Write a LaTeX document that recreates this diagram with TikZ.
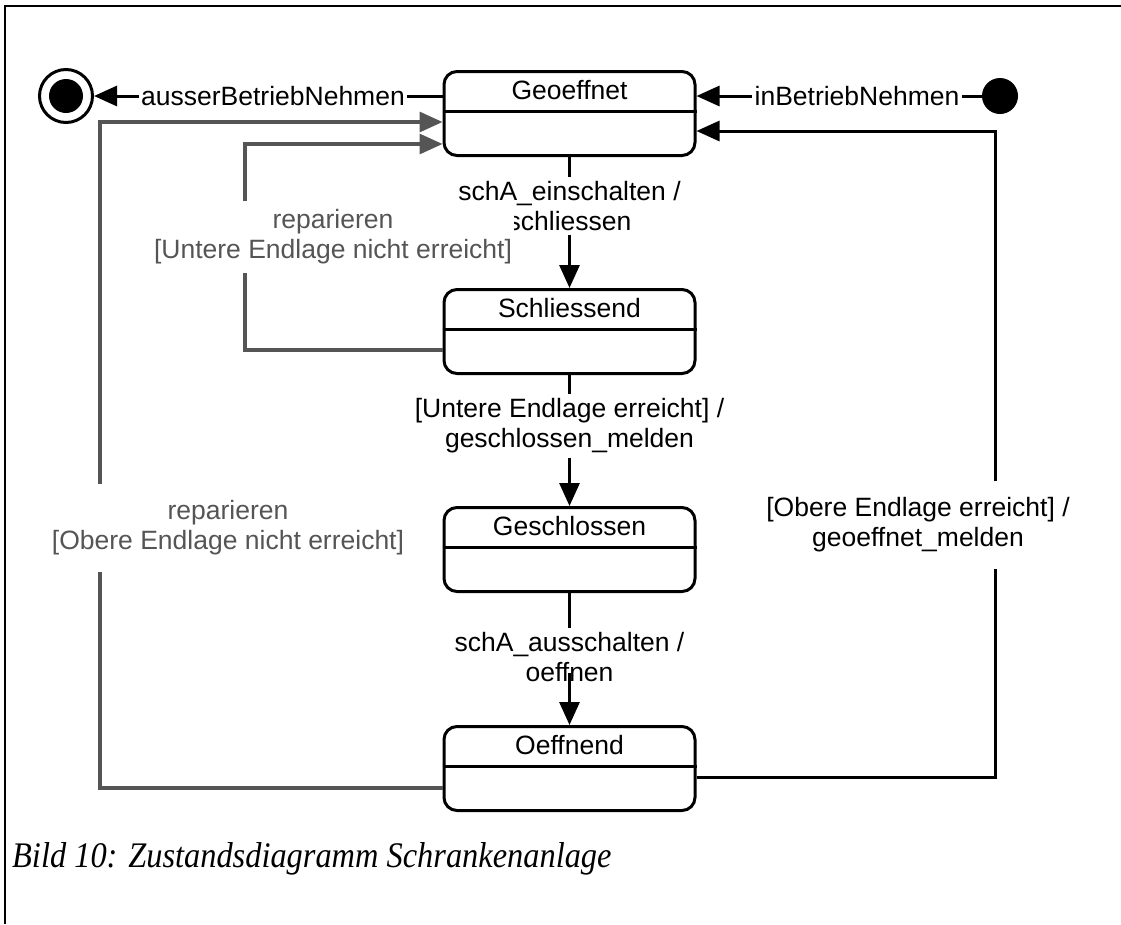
\documentclass[tikz,border=0pt]{standalone}
\usepackage{fontspec}
\setmainfont{Liberation Sans}
\newfontfamily\capfont{Liberation Serif}
\usetikzlibrary{arrows.meta}
\definecolor{repgray}{HTML}{555555}
\begin{document}
\begin{tikzpicture}[x=1pt,y=-1pt,
  every node/.style={font=\fontsize{26.5}{30}\selectfont},
  zustand/.style={draw, line width=3pt, rounded corners=13pt, minimum width=251pt,
    minimum height=84pt, inner sep=0pt},
  trenn/.style={line width=3pt},
  titel/.style={inner sep=0pt},
  linie/.style={line width=3pt},
  uebergang/.style={linie, -{Triangle[length=23pt,width=20pt]}},
  replinie/.style={draw=repgray, line width=3.3pt},
  reparatur/.style={replinie, -{Triangle[length=23pt,width=20pt]}},
  beschriftung/.style={fill=white, align=center, inner xsep=2pt, inner ysep=4pt},
  grau/.style={text=repgray},
  ]
\useasboundingbox (0,0) rectangle (1121,924);

% frame (only top and left edges)
\coordinate (rahmen-ul) at (5,924);
\coordinate (rahmen-ol) at (5,6);
\coordinate (rahmen-or) at (1121,6);
\draw[line width=2.5pt] (rahmen-ul) -- (rahmen-ol) -- (rahmen-or);

% states
\foreach \n/\y/\t in {geo/70/Geoeffnet, schl/288/Schliessend, gesch/506/Geschlossen, oeff/725/Oeffnend} {
  \node[zustand, anchor=north] (\n) at (569.5,\y) {};
  \node[titel] (\n-titel) at ([yshift=-20pt]\n.north) {\t};
  \draw[trenn] ([yshift=-41.5pt]\n.north west) -- ([yshift=-41.5pt]\n.north east);
}

% pseudo states
\node[circle, fill=black, minimum size=36pt, inner sep=0pt] (start) at (1000,96) {};
\node[circle, draw, line width=3pt, minimum size=53pt, inner sep=0pt] (ende) at (66,96) {};
\node[circle, fill=black, minimum size=34pt, inner sep=0pt] (ende-kern) at (ende.center) {};

% in / out of service
\node[beschriftung] (l-in) at (857,96) {inBetriebNehmen};
\draw[linie] (start) -- (l-in);
\draw[uebergang] (l-in) -- (geo.east |- l-in);

\node[beschriftung] (l-aus) at (273,96) {ausserBetriebNehmen};
\draw[linie] (geo.west |- l-aus) -- (l-aus);
\draw[uebergang] (l-aus) -- (ende);

% main sequence
\node[beschriftung] (l1) at (569.5,206) {schA\_einschalten /\\schliessen};
\draw[linie] (geo) -- (l1);
\draw[uebergang] (l1) -- (schl);

\node[beschriftung] (l2) at (569.5,426) {[Untere Endlage erreicht] /\\geschlossen\_melden};
\draw[linie] (schl) -- (l2);
\draw[uebergang] (l2) -- (gesch);

\node[beschriftung, fill=none] (l3) at (569.5,657) {schA\_ausschalten /\\oeffnen};
\coordinate (l3-ab) at ([yshift=-16pt]l3.center);
\draw[linie] (gesch) -- (l3);
\draw[uebergang] (l3-ab) -- (oeff);

% back to open
\node[beschriftung, inner ysep=16pt] (l4) at (918,525) {[Obere Endlage erreicht] /\\geoeffnet\_melden};
\coordinate (r-unten) at (995,777);
\coordinate (r-oben) at (995,131);
\draw[linie] (oeff.east |- r-unten) -- (r-unten) -- (r-unten |- l4.south);
\draw[uebergang] (r-oben |- l4.north) -- (r-oben) -- (geo.east |- r-oben);

% repair transitions
\node[beschriftung, grau, inner ysep=16pt] (l5) at (228,528) {reparieren\\{}[Obere Endlage nicht erreicht]};
\coordinate (g1-unten) at (100,788);
\coordinate (g1-oben) at (100,122);
\draw[replinie] (oeff.west |- g1-unten) -- (g1-unten) -- (g1-unten |- l5.south);
\draw[reparatur] (g1-oben |- l5.north) -- (g1-oben) -- (geo.west |- g1-oben);

\node[beschriftung, grau, inner ysep=8pt] (l6) at (333,237) {reparieren\\{}[Untere Endlage nicht erreicht]};
\coordinate (g2-unten) at (245,350);
\coordinate (g2-oben) at (245,144);
\draw[replinie] (schl.west |- g2-unten) -- (g2-unten) -- (g2-unten |- l6.south);
\draw[reparatur] (g2-oben |- l6.north) -- (g2-oben) -- (geo.west |- g2-oben);

% caption (condensed italic serif)
\node[anchor=base west, inner sep=0pt] (bild) at (12,867)
  {\scalebox{0.9}[1]{\capfont\itshape\fontsize{36}{40}\selectfont Bild 10: Zustandsdiagramm Schrankenanlage}};
\end{tikzpicture}
\end{document}
